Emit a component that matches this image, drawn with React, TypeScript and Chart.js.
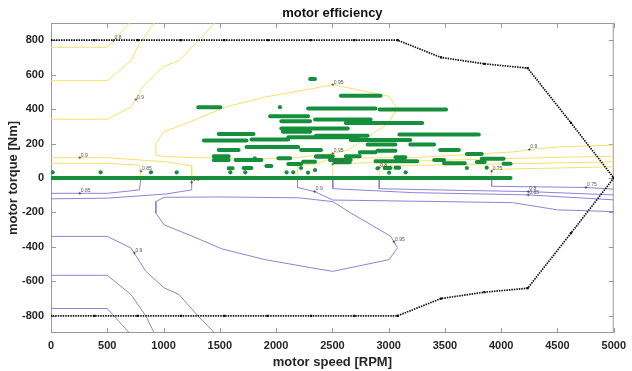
import { useEffect, useRef } from 'react';
import { Chart, registerables } from 'chart.js';

Chart.register(...registerables);

const FONT = '"Liberation Sans", Arial, sans-serif';
const TEXT = '#262626';
const GREEN = '#168f3c';
const YELLOW = '#f6e06a';
const PURPLE = '#8d84d6';

// axis ticks
const speedTicks = [0, 500, 1000, 1500, 2000, 2500, 3000, 3500, 4000, 4500, 5000];
const torqueTicks = [-800, -600, -400, -200, 0, 200, 400, 600, 800];

// torque envelope of the motor
const envSpeed = [0, 385, 770, 1155, 1540, 1925, 2310, 2695, 3080, 3465, 3850, 4235, 4620, 5000];
const envTorqueMax = [800, 800, 800, 800, 800, 800, 800, 800, 800, 700, 663, 638, 320, 0];
const envTorqueMin = [-800, -800, -800, -800, -800, -800, -800, -800, -800, -700, -663, -640, -320, 0];

// efficiency contours, motoring side: [speed, torque] polylines
const motoringContours: number[][][] = [
  [[0, 759], [500, 759], [697, 900]],
  [[0, 565], [500, 565], [711, 682], [785, 779], [917, 900]],
  [[0, 341], [500, 341], [711, 412], [814, 528], [990, 644], [1138, 682], [1308, 798], [1455, 900]],
  [[932, 133], [932, 200], [1005, 268], [1285, 339], [1549, 412], [1902, 470], [2372, 525], [2504, 542], [3004, 474], [3078, 403], [2990, 316], [2843, 249], [2637, 162], [2504, 143], [2200, 120], [1900, 112], [1300, 118], [1000, 125], [932, 133]],
  [[0, 118], [500, 118], [1020, 94], [1250, 71], [1250, 0]],
  [[0, 85], [500, 85], [785, 75], [800, 0]],
  [[2190, 0], [2190, 72], [2350, 82], [2504, 116], [3213, 118], [4120, 152], [4250, 165], [4520, 181], [5000, 191]],
  [[2504, 0], [2504, 81], [3213, 98], [4120, 114], [5000, 127]],
  [[2916, 0], [2916, 72], [3213, 73], [4120, 83], [5000, 94]],
  [[3915, 0], [3915, 50], [4500, 58], [5000, 65]],
];

// efficiency contours, generating side
const generatingContours: number[][][] = [
  [[0, -758], [500, -758], [697, -900]],
  [[0, -565], [500, -565], [711, -677], [843, -802], [917, -900]],
  [[0, -339], [500, -339], [711, -407], [843, -542], [1005, -638], [1138, -677], [1308, -802], [1455, -900]],
  [[932, -137], [932, -204], [1005, -272], [1226, -330], [1520, -412], [1902, -474], [2372, -528], [2504, -542], [3004, -474], [3078, -406], [3019, -339], [2666, -204], [2504, -137], [2200, -115], [1500, -110], [1005, -112], [932, -137]],
  [[0, -89], [500, -89], [785, -69], [800, 0]],
  [[0, -121], [500, -117], [1020, -93], [1250, -69], [1250, 0]],
  [[2190, 0], [2190, -55], [2343, -79], [2504, -128], [4100, -143], [4500, -185], [5000, -195]],
  [[2504, 0], [2504, -62], [3213, -85], [4240, -98], [5000, -127]],
  [[2916, 0], [2916, -62], [3500, -70], [4240, -79], [5000, -98]],
  [[3915, 0], [3915, -48], [4753, -55], [5000, -65]],
];

const contourLabels = [
  { speed: 555, torque: 798, text: '0.8' },
  { speed: 755, torque: 455, text: '0.9' },
  { speed: 2504, torque: 542, text: '0.95' },
  { speed: 256, torque: 118, text: '0.9' },
  { speed: 800, torque: 40, text: '0.85' },
  { speed: 2504, torque: 143, text: '0.95' },
  { speed: 2504, torque: 81, text: '0.85' },
  { speed: 2916, torque: 60, text: '0.8' },
  { speed: 3915, torque: 40, text: '0.75' },
  { speed: 4250, torque: 165, text: '0.9' },
  { speed: 256, torque: -89, text: '0.85' },
  { speed: 1250, torque: -25, text: '0.9' },
  { speed: 741, torque: -435, text: '0.9' },
  { speed: 3048, torque: -370, text: '0.95' },
  { speed: 2343, torque: -79, text: '0.9' },
  { speed: 4240, torque: -79, text: '0.8' },
  { speed: 4240, torque: -98, text: '0.85' },
  { speed: 4753, torque: -55, text: '0.75' },
];

// operating points of the drive cycle, runs of samples at constant torque: [speed from, speed to, torque]
const opRuns: number[][] = [
  [0, 4083, 0],
  [1308, 1505, 411],
  [2302, 2346, 575],
  [2284, 2883, 404],
  [2919, 3510, 398],
  [2575, 2928, 477],
  [1946, 2284, 359],
  [2046, 2302, 330],
  [2346, 2840, 340],
  [2619, 3298, 320],
  [2046, 2637, 288],
  [2060, 2302, 268],
  [2354, 2813, 246],
  [3095, 3801, 253],
  [1490, 1799, 255],
  [1358, 1737, 218],
  [1781, 2108, 223],
  [2108, 2725, 236],
  [2663, 3192, 220],
  [2813, 3060, 195],
  [3192, 3404, 195],
  [1490, 1667, 162],
  [1737, 2196, 180],
  [2222, 2399, 162],
  [2743, 2883, 149],
  [2901, 3060, 158],
  [3457, 3624, 162],
  [3695, 3827, 139],
  [2354, 2504, 127],
  [2619, 2743, 127],
  [3060, 3148, 120],
  [2883, 3254, 97],
  [2522, 2654, 91],
  [3404, 3492, 104],
  [3492, 3677, 85],
  [3783, 3854, 93],
  [3827, 4021, 112],
  [4021, 4083, 83],
  [2020, 2125, 114],
  [1446, 1579, 127],
  [1446, 1579, 104],
  [1640, 1869, 104],
  [1579, 1614, 56],
  [1711, 1781, 58],
  [1913, 1958, 70],
  [2108, 2222, 81],
  [2240, 2346, 94],
  [2354, 2487, 123],
  [2478, 2663, 104],
  [2963, 3016, 58],
  [3060, 3095, 60],
];

// single operating points
const opSpeed = [15, 441, 888, 1117, 1593, 1726, 2093, 2152, 2222, 2346, 2901, 3004, 3151, 3695, 3871, 2284, 2034, 1811];
const opTorque = [33, 33, 33, 33, 33, 33, 33, 33, 58, 46, 56, 31, 33, 58, 60, 31, 411, 114];

type Pt = { x: number; y: number | null };

function polylines(lines: number[][][]): Pt[] {
  const out: Pt[] = [];
  lines.forEach((line) => {
    line.forEach(([x, y]) => out.push({ x, y }));
    out.push({ x: line[line.length - 1][0], y: null });
  });
  return out;
}

function runs(list: number[][]): Pt[] {
  const out: Pt[] = [];
  list.forEach(([a, b, t]) => {
    out.push({ x: a, y: t }, { x: b, y: t }, { x: b, y: null });
  });
  return out;
}

const framePlugin = {
  id: 'frame',
  beforeDatasetsDraw(chart: any) {
    const { ctx, chartArea: a, scales } = chart;
    ctx.save();
    ctx.strokeStyle = '#9a9a9a';
    ctx.lineWidth = 1;
    ctx.strokeRect(a.left + 0.5, a.top + 0.5, a.right - a.left - 1, a.bottom - a.top - 1);
    ctx.beginPath();
    const tl = 5;
    speedTicks.forEach((v) => {
      const x = Math.round(scales.x.getPixelForValue(v)) + 0.5;
      ctx.moveTo(x, a.bottom);
      ctx.lineTo(x, a.bottom - tl);
      ctx.moveTo(x, a.top);
      ctx.lineTo(x, a.top + tl);
    });
    torqueTicks.forEach((v) => {
      const y = Math.round(scales.y.getPixelForValue(v)) + 0.5;
      ctx.moveTo(a.left, y);
      ctx.lineTo(a.left + tl, y);
      ctx.moveTo(a.right, y);
      ctx.lineTo(a.right - tl, y);
    });
    ctx.stroke();
    ctx.restore();
  },
  afterDatasetsDraw(chart: any) {
    const { ctx, chartArea: a, scales } = chart;
    ctx.save();
    ctx.strokeStyle = '#444';
    ctx.fillStyle = '#555';
    ctx.lineWidth = 0.7;
    ctx.font = `5px ${FONT}`;
    ctx.textBaseline = 'middle';
    ctx.textAlign = 'left';
    contourLabels.forEach((l) => {
      const x = scales.x.getPixelForValue(l.speed);
      const y = scales.y.getPixelForValue(l.torque);
      ctx.beginPath();
      ctx.moveTo(x - 1.5, y);
      ctx.lineTo(x + 1.5, y);
      ctx.moveTo(x, y - 1.5);
      ctx.lineTo(x, y + 1.5);
      ctx.stroke();
      ctx.fillText(l.text, x + 1, y - 2.5);
    });
    ctx.restore();

    ctx.save();
    ctx.fillStyle = '#111';
    ctx.font = `bold 13px ${FONT}`;
    ctx.textAlign = 'center';
    ctx.textBaseline = 'alphabetic';
    ctx.fillText('motor efficiency', (a.left + a.right) / 2, 16.5);
    ctx.restore();
  },
};

export default function App() {
  const ref = useRef<HTMLCanvasElement | null>(null);

  useEffect(() => {
    if (!ref.current) return;
    const envelope: Pt[] = [
      ...envSpeed.map((s, i) => ({ x: s, y: envTorqueMax[i] })),
      ...envSpeed
        .map((s, i) => ({ x: s, y: envTorqueMin[i] }))
        .reverse(),
    ];
    const tickFont = { family: FONT, size: 11, weight: 'bold' };
    const chart = new Chart(ref.current, {
      type: 'scatter',
      data: {
        datasets: [
          {
            data: envelope,
            showLine: true,
            borderColor: '#111',
            borderWidth: 1.7,
            borderDash: [1.5, 1],
            pointRadius: 1.6,
            pointStyle: 'rect',
            pointBackgroundColor: '#111',
            pointBorderWidth: 0,
            order: 0,
          },
          {
            data: opSpeed.map((s, i) => ({ x: s, y: opTorque[i] })),
            pointRadius: 2.1,
            pointBackgroundColor: GREEN,
            pointBorderWidth: 0,
            order: 1,
          },
          {
            data: runs(opRuns),
            showLine: true,
            borderColor: GREEN,
            borderWidth: 4,
            borderCapStyle: 'round',
            pointRadius: 0,
            spanGaps: false,
            order: 1,
          },
          {
            data: polylines(motoringContours),
            showLine: true,
            borderColor: YELLOW,
            borderWidth: 1,
            pointRadius: 0,
            spanGaps: false,
            order: 2,
          },
          {
            data: polylines(generatingContours),
            showLine: true,
            borderColor: PURPLE,
            borderWidth: 1,
            pointRadius: 0,
            spanGaps: false,
            order: 2,
          },
        ] as any,
      },
      options: {
        animation: false,
        responsive: false,
        events: [],
        layout: { padding: { top: 23, right: 14, bottom: 0, left: 0 } },
        plugins: { legend: { display: false }, tooltip: { enabled: false }, title: { display: false } },
        scales: {
          x: {
            type: 'linear',
            min: 0,
            max: 5000,
            afterBuildTicks: (s: any) => {
              s.ticks = speedTicks.map((v) => ({ value: v }));
            },
            afterFit: (s: any) => {
              s.height = 38;
            },
            grid: { display: false, drawTicks: false },
            border: { display: false },
            ticks: {
              color: TEXT,
              font: tickFont,
              padding: 6,
              maxRotation: 0,
              autoSkip: false,
              callback: (v: any) => String(v),
            },
            title: {
              display: true,
              text: 'motor speed [RPM]',
              color: TEXT,
              font: { family: FONT, size: 13, weight: 'bold' },
              padding: { top: 0, bottom: 1 },
            },
          },
          y: {
            type: 'linear',
            min: -900,
            max: 900,
            afterBuildTicks: (s: any) => {
              s.ticks = torqueTicks.map((v) => ({ value: v }));
            },
            afterFit: (s: any) => {
              s.width = 51;
            },
            grid: { display: false, drawTicks: false },
            border: { display: false },
            ticks: {
              color: TEXT,
              font: tickFont,
              padding: 7,
              autoSkip: false,
              callback: (v: any) => String(v),
            },
            title: {
              display: true,
              text: 'motor torque [Nm]',
              color: TEXT,
              font: { family: FONT, size: 13, weight: 'bold' },
              padding: { top: 6, bottom: 0 },
            },
          },
        },
      } as any,
      plugins: [framePlugin],
    });
    return () => chart.destroy();
  }, []);

  return (
    <div style={{ position: 'absolute', left: 0, top: 0, width: 632, height: 371, background: '#fff' }}>
      <canvas ref={ref} width={632} height={371} style={{ display: 'block' }} />
    </div>
  );
}
